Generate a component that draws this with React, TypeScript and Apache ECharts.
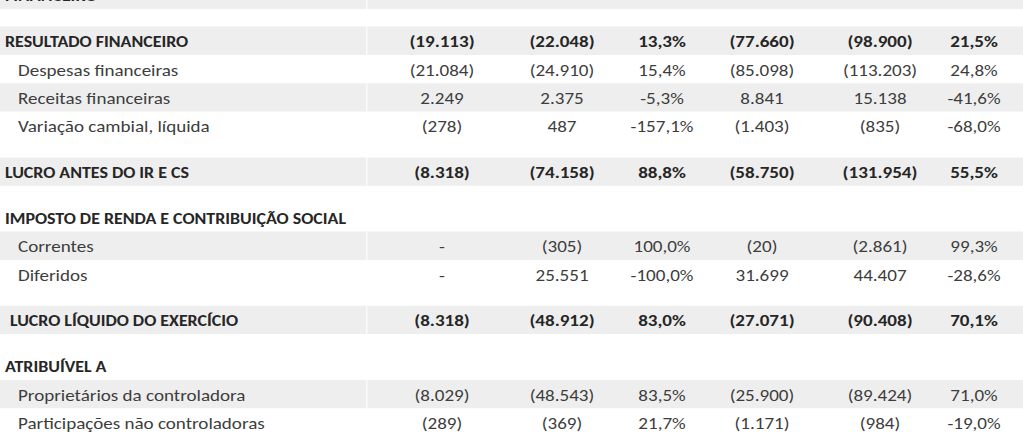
import React, { useEffect, useRef } from "react";
import * as echarts from "echarts";

// ---- data ----
const rowLabels = [
  "FINANCEIRO",
  "RESULTADO FINANCEIRO",
  "Despesas financeiras",
  "Receitas financeiras",
  "Variação cambial, líquida",
  "LUCRO ANTES DO IR E CS",
  "IMPOSTO DE RENDA E CONTRIBUIÇÃO SOCIAL",
  "Correntes",
  "Diferidos",
  "LUCRO LÍQUIDO DO EXERCÍCIO",
  "ATRIBUÍVEL A",
  "Proprietários da controladora",
  "Participações não controladoras",
];
const rowKinds = ["head", "total", "item", "item", "item", "total", "section", "item", "item", "net", "section", "item", "item"];
const shadedRows = [true, true, false, true, false, true, false, true, false, true, false, true, false];
const gapBefore = [false, true, false, false, false, true, true, false, false, true, true, false, false];

const quarterA = [null, -19113, -21084, 2249, -278, -8318, null, 0, 0, -8318, null, -8029, -289];
const quarterB = [null, -22048, -24910, 2375, 487, -74158, null, -305, 25551, -48912, null, -48543, -369];
const quarterVar = [null, 13.3, 15.4, -5.3, -157.1, 88.8, null, 100.0, -100.0, 83.0, null, 83.5, 21.7];
const yearA = [null, -77660, -85098, 8841, -1403, -58750, null, -20, 31699, -27071, null, -25900, -1171];
const yearB = [null, -98900, -113203, 15138, -835, -131954, null, -2861, 44407, -90408, null, -89424, -984];
const yearVar = [null, 21.5, 24.8, -41.6, -68.0, 55.5, null, 99.3, -28.6, 70.1, null, 71.0, -19.0];

// ---- layout ----
const W = 1023;
const H = 438;
const ROW_PX = 28.3;
const GAP_U = 17.6 / ROW_PX;
const Y_MIN = 19.3 / ROW_PX;
const COL_X = [442, 562, 662, 762, 880, 974];
const SEP_X = 366;
const FONT = "Carlito, Lato, 'Open Sans', sans-serif";
const FONT_SIZE = 16;
const SCALE_CAPS = 1.12;
const SCALE_TEXT = 1.19;

const rowTop: number[] = [];
{
  let c = 0;
  for (let i = 0; i < rowLabels.length; i++) {
    if (gapBefore[i]) c += GAP_U;
    rowTop.push(c);
    c += 1;
  }
}

function fmtInt(n: number): string {
  return String(Math.abs(n)).replace(/\B(?=(\d{3})+(?!\d))/g, ".");
}
function fmtNum(v: number | null): string {
  if (v === null) return "";
  if (v === 0) return "-";
  return v < 0 ? "(" + fmtInt(v) + ")" : fmtInt(v);
}
function fmtPct(v: number | null): string {
  if (v === null) return "";
  return v.toFixed(1).replace(".", ",") + "%";
}

const columns: { values: (number | null)[]; fmt: (v: number | null) => string }[] = [
  { values: quarterA, fmt: fmtNum },
  { values: quarterB, fmt: fmtNum },
  { values: quarterVar, fmt: fmtPct },
  { values: yearA, fmt: fmtNum },
  { values: yearB, fmt: fmtNum },
  { values: yearVar, fmt: fmtPct },
];

export default function App() {
  const ref = useRef<HTMLDivElement>(null);
  useEffect(() => {
    if (!ref.current) return;
    const chart = echarts.init(ref.current, null, { renderer: "svg" });
    const renderItem = (params: any, api: any) => {
      const i = api.value(0) as number;
      const top = rowTop[i];
      const p1 = api.coord([0, top]);
      const p2 = api.coord([W, top + 1]);
      const midY = (p1[1] + p2[1]) / 2 + 1;
      const kind = rowKinds[i];
      const bold = kind !== "item";
      const color = bold ? "#262626" : "#3d3d3d";
      const children: any[] = [];
      if (shadedRows[i]) {
        children.push({
          type: "rect",
          shape: { x: p1[0], y: p1[1], width: p2[0] - p1[0], height: p2[1] - p1[1] },
          style: { fill: "#eeeeee" },
        });
        const s = api.coord([SEP_X, top]);
        children.push({
          type: "rect",
          shape: { x: s[0], y: p1[1], width: 1.5, height: p2[1] - p1[1] },
          style: { fill: "#fafafa" },
        });
      }
      const labelX = kind === "item" ? 18 : kind === "net" ? 10 : 5;
      const lp = api.coord([labelX, top]);
      children.push({
        type: "text",
        x: lp[0],
        y: midY,
        scaleX: bold ? SCALE_CAPS : SCALE_TEXT,
        style: {
          text: rowLabels[i],
          x: 0,
          y: 0,
          align: "left",
          verticalAlign: "middle",
          fill: color,
          fontFamily: FONT,
          fontSize: FONT_SIZE,
          fontWeight: bold ? "bold" : "normal",
        },
      });
      columns.forEach((col, c) => {
        const txt = col.fmt(col.values[i]);
        if (!txt) return;
        const cp = api.coord([COL_X[c], top]);
        children.push({
          type: "text",
          x: cp[0],
          y: midY,
          scaleX: SCALE_TEXT,
          style: {
            text: txt,
            x: 0,
            y: 0,
            align: "center",
            verticalAlign: "middle",
            fill: color,
            fontFamily: FONT,
            fontSize: FONT_SIZE,
            fontWeight: bold ? "bold" : "normal",
          },
        });
      });
      return { type: "group", children };
    };
    chart.setOption({
      animation: false,
      backgroundColor: "#ffffff",
      grid: { left: 0, right: 0, top: 0, bottom: 0 },
      xAxis: { type: "value", min: 0, max: W, show: false },
      yAxis: { type: "value", inverse: true, min: Y_MIN, max: Y_MIN + H / ROW_PX, show: false },
      series: [
        {
          type: "custom",
          clip: false,
          renderItem,
          data: rowLabels.map((_, i) => [i]),
        },
      ],
    });
    return () => chart.dispose();
  }, []);
  return (
    <div
      ref={ref}
      style={{ position: "fixed", left: 0, top: 0, width: W, height: H }}
    />
  );
}
